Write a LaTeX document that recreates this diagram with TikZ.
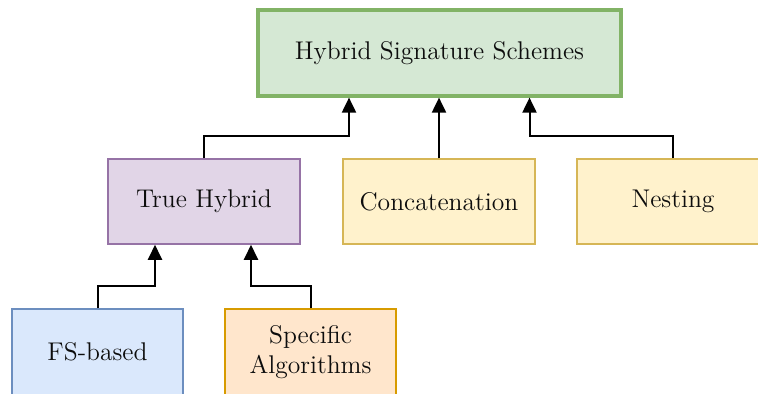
\documentclass[tikz,border=0pt]{standalone}
\usetikzlibrary{arrows.meta}
\definecolor{gfill}{HTML}{D5E8D4}\definecolor{gline}{HTML}{82B366}
\definecolor{pfill}{HTML}{E1D5E7}\definecolor{pline}{HTML}{9673A6}
\definecolor{yfill}{HTML}{FFF2CC}\definecolor{yline}{HTML}{D6B656}
\definecolor{bfill}{HTML}{DAE8FC}\definecolor{bline}{HTML}{6C8EBF}
\definecolor{ofill}{HTML}{FFE6CC}\definecolor{oline}{HTML}{D79B00}
\begin{document}
\begin{tikzpicture}[x=0.5pt,y=-0.5pt,
  box/.style={draw,line width=0.75pt,minimum width=96pt,minimum height=42.5pt,inner sep=2pt,align=center,
    font=\fontsize{12.8}{15}\selectfont,text=black!95},
  arr/.style={line width=1pt,-{Triangle[length=7.5pt,width=7pt]}}]
\clip (0,0) rectangle (758,393);
\fill[white] (0,0) rectangle (758,393);
\node[box,fill=gfill,draw=gline,line width=1.6pt,minimum width=181.5pt,minimum height=43pt] (top) at (439.5,53) {Hybrid Signature Schemes};
\node[box,fill=pfill,draw=pline] (th) at (204,201.5) {True Hybrid};
\node[box,fill=yfill,draw=yline] (cc) at (439,201.5) {Concatenation};
\node[box,fill=yfill,draw=yline] (ne) at (673,201.5) {Nesting};
\node[box,fill=bfill,draw=bline,minimum width=85.5pt,minimum height=43pt] (fs) at (97.5,352) {FS-based};
\node[box,fill=ofill,draw=oline,minimum width=85.5pt,minimum height=43pt] (sa) at (310.5,352) {Specific\\Algorithms};
\draw[arr] (th.north) -- ++(0,-22) -| ([xshift=-45.25pt]top.south);
\draw[arr] (cc.north) -- (cc.north |- top.south);
\draw[arr] (ne.north) -- ++(0,-22) -| ([xshift=45pt]top.south);
\draw[arr] (fs.north) -- ++(0,-22) -| ([xshift=-24.5pt]th.south);
\draw[arr] (sa.north) -- ++(0,-22) -| ([xshift=23.5pt]th.south);
\end{tikzpicture}
\end{document}
